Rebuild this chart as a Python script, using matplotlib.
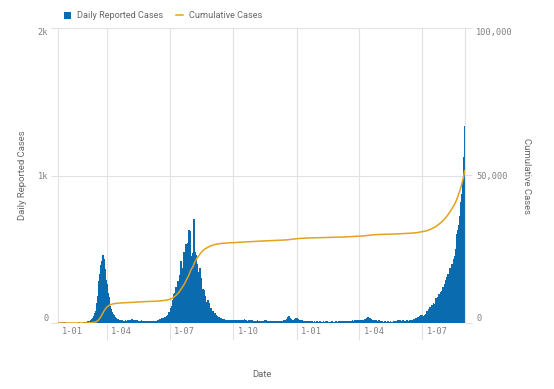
import numpy as np
import pandas as pd
import matplotlib
matplotlib.use('Agg')
import matplotlib.pyplot as plt
import matplotlib.dates as mdates
import matplotlib.transforms as mtransforms

# daily reported cases, one list per month (2020-01-22 .. 2021-08-31)
jan20 = [0, 0, 0, 4, 0, 0, 1, 0, 2, 2]
feb20 = [3, 0, 0, 0, 0, 0, 0, 0, 0, 0, 0, 0, 0, 0, 0, 0, 0, 0, 0, 1, 2, 0, 0, 0, 0, 0, 0, 1, 2]
mar20 = [3, 4, 5, 8, 8, 10, 8, 12, 15, 18, 25, 30, 35, 50, 65, 80, 100, 130, 180, 220,
         280, 330, 360, 390, 420, 410, 460, 430, 360, 320, 290]
apr20 = [260, 230, 200, 170, 140, 110, 90, 80, 70, 60, 50, 40, 35, 30, 30, 25, 25, 20, 20, 15,
         15, 12, 15, 12, 10, 10, 12, 15, 12, 10]
may20 = [15, 20, 18, 12, 10, 15, 25, 20, 15, 12, 10, 18, 14, 16, 20, 12, 10, 8, 12, 10,
         14, 10, 8, 12, 10, 8, 6, 10, 12, 8, 10]
jun20 = [8, 10, 12, 8, 10, 6, 8, 5, 6, 8, 10, 12, 10, 15, 18, 20, 25, 22, 25, 30,
         28, 20, 25, 35, 38, 40, 45, 50, 60, 70]
jul20 = [70, 75, 100, 110, 120, 150, 190, 170, 200, 240, 220, 280, 200, 280, 320, 310, 420, 250, 370, 300,
         380, 480, 420, 530, 460, 380, 540, 380, 630, 560, 620]
aug20 = [450, 420, 300, 470, 700, 480, 470, 460, 400, 330, 340, 290, 300, 370, 280, 300, 230, 230, 220, 200,
         180, 130, 140, 120, 150, 120, 130, 100, 95, 100, 80]
sep20 = [70, 75, 60, 65, 55, 50, 40, 45, 40, 35, 40, 30, 30, 25, 25, 22, 25, 20, 18, 15,
         15, 14, 15, 12, 12, 14, 10, 12, 15, 12]
oct20 = [15, 12, 14, 10, 12, 16, 18, 14, 12, 15, 10, 12, 14, 20, 16, 18, 22, 15, 12, 14,
         10, 12, 18, 14, 16, 12, 10, 14, 12, 10, 12]
nov20 = [10, 8, 12, 10, 14, 12, 8, 10, 12, 8, 10, 6, 8, 12, 14, 16, 18, 12, 10, 8,
         12, 10, 8, 6, 10, 12, 8, 10, 12, 10]
dec20 = [8, 10, 12, 8, 6, 10, 12, 10, 8, 10, 12, 10, 14, 12, 10, 16, 25, 35, 40, 45,
         30, 28, 25, 22, 20, 18, 20, 25, 22, 28, 30]
jan21 = [30, 25, 22, 18, 20, 15, 18, 16, 14, 12, 10, 12, 10, 8, 10, 8, 6, 8, 10, 6,
         8, 6, 8, 5, 6, 8, 6, 5, 6, 8, 6]
feb21 = [5, 6, 8, 6, 5, 4, 6, 8, 6, 5, 4, 8, 12, 10, 6, 5, 4, 6, 5, 8,
         6, 5, 4, 6, 5, 8, 6, 5]
mar21 = [6, 8, 10, 8, 6, 8, 10, 6, 8, 10, 12, 8, 6, 8, 10, 12, 8, 10, 8, 12,
         10, 14, 12, 10, 14, 16, 18, 14, 20, 16, 18]
apr21 = [20, 18, 15, 12, 14, 16, 18, 20, 22, 25, 28, 30, 35, 38, 32, 28, 25, 22, 20, 18,
         16, 20, 18, 15, 14, 12, 10, 12, 14, 10]
may21 = [8, 6, 5, 8, 6, 5, 6, 8, 5, 4, 6, 8, 6, 5, 6, 8, 6, 5, 6, 8,
         10, 8, 6, 8, 12, 15, 18, 20, 16, 14, 12]
jun21 = [10, 12, 14, 12, 10, 8, 10, 12, 14, 12, 10, 12, 14, 16, 12, 14, 18, 20, 22, 25,
         28, 24, 30, 35, 38, 40, 45, 50, 42, 48]
jul21 = [35, 40, 45, 50, 40, 55, 65, 75, 70, 90, 95, 105, 100, 115, 120, 105, 130, 125, 120, 140,
         165, 150, 175, 185, 190, 170, 200, 210, 215, 225, 240]
aug21 = [230, 260, 250, 290, 310, 290, 330, 300, 350, 370, 330, 380, 400, 370, 430, 410, 450, 500, 540, 600,
         630, 610, 660, 720, 780, 820, 870, 920, 960, 1120, 1330]

start_date = '2020-01-22'
quarter_starts = ['2020-01-01', '2020-04-01', '2020-07-01', '2020-10-01',
                  '2021-01-01', '2021-04-01', '2021-07-01']
quarter_labels = ['1-01', '1-04', '1-07', '1-10', '1-01', '1-04', '1-07']

daily = np.array(jan20 + feb20 + mar20 + apr20 + may20 + jun20 + jul20 + aug20 + sep20 +
                 oct20 + nov20 + dec20 + jan21 + feb21 + mar21 + apr21 + may21 + jun21 +
                 jul21 + aug21)
dates = pd.date_range(start_date, periods=len(daily), freq='D')
cumulative = np.cumsum(daily)

BLUE = '#0a6bae'
ORANGE = '#e3a21f'
GRID = '#e2e2e2'
TICK_TXT = '#808080'
TITLE_TXT = '#666666'
MONO = 'DejaVu Sans Mono'
SANS = 'Roboto'

fig = plt.figure(figsize=(5.54, 3.89), dpi=100)
ax = fig.add_axes([58 / 554, 1 - 323 / 389, 407 / 554, 295 / 389])
ax2 = ax.twinx()

xd = mdates.date2num(dates)
bars = ax.bar(xd, daily, width=1.0, color=BLUE, linewidth=0, antialiased=False,
              snap=False, label='Daily Reported Cases')
line, = ax2.plot(xd, cumulative, color=ORANGE, linewidth=1.1, label='Cumulative Cases')

x0 = xd[0] - 0.5
x1 = xd[-1] + 0.5
ax.set_xlim(x0, x1)
ax.set_ylim(0, 2000)
ax2.set_ylim(0, 100000)

# horizontal grid + ticks
ax.set_yticks([0, 1000, 2000])
ax.set_yticklabels(['0', '1k', '2k'], family=MONO, fontsize=6.2, color=TICK_TXT)
ax2.set_yticks([0, 50000, 100000])
ax2.set_yticklabels(['0', '50,000', '100,000'], family=MONO, fontsize=6.2, color=TICK_TXT)
ax.tick_params(axis='y', length=5, width=0.8, color=GRID, pad=2)
ax2.tick_params(axis='y', length=5, width=0.8, color=GRID, pad=3)
for axis in (ax, ax2):
    labs = axis.get_yticklabels()
    labs[0].set_va('bottom')
    labs[-1].set_va('top')
ax.grid(axis='y', color=GRID, linewidth=0.8)
ax.set_axisbelow(True)

# vertical grid at quarter starts
q_nums = mdates.date2num(pd.to_datetime(quarter_starts))
inside = [q for q in q_nums if q > x0]
ax.set_xticks(inside)
ax.set_xticklabels([])
ax.tick_params(axis='x', length=12, width=0.8, color=GRID)
ax.grid(axis='x', color=GRID, linewidth=0.8)

offset = mtransforms.ScaledTranslation(4 / 100, -9 / 100, fig.dpi_scale_trans)
trans = mtransforms.blended_transform_factory(ax.transData, ax.transAxes) + offset
for q, lab in zip(q_nums, quarter_labels):
    ax.text(max(q, x0), 0, lab, transform=trans, ha='left', va='center',
            family=MONO, fontsize=6.2, color=TICK_TXT)

for s in ['top', 'bottom']:
    ax.spines[s].set_visible(False)
    ax2.spines[s].set_visible(False)
ax.spines['left'].set_color(GRID)
ax.spines['right'].set_visible(False)
ax2.spines['left'].set_visible(False)
ax2.spines['right'].set_color(GRID)
ax.spines['left'].set_linewidth(0.8)
ax2.spines['right'].set_linewidth(0.8)

ax.set_ylabel('Daily Reported Cases', family=SANS, fontsize=6.8, color=TITLE_TXT)
ax.yaxis.set_label_coords(-31 / 407, 0.5)
ax2.set_ylabel('Cumulative Cases', family=SANS, fontsize=6.8, color=TITLE_TXT,
               rotation=270, va='center')
ax2.yaxis.set_label_coords(1 + 62 / 407, 0.5)
ax.set_xlabel('Date', family=SANS, fontsize=6.8, color=TITLE_TXT)
ax.xaxis.set_label_coords(0.5, -47 / 295)

leg = fig.legend(handles=[bars, line], loc='center left',
                 bbox_to_anchor=(64 / 554, 1 - 16 / 389), ncol=2, frameon=False,
                 prop={'family': SANS, 'size': 6.6}, handlelength=0.8, handleheight=0.8,
                 handletextpad=0.6, columnspacing=1.4, borderpad=0, borderaxespad=0)
for t in leg.get_texts():
    t.set_color(TITLE_TXT)

fig.savefig('out.png', dpi=100)
